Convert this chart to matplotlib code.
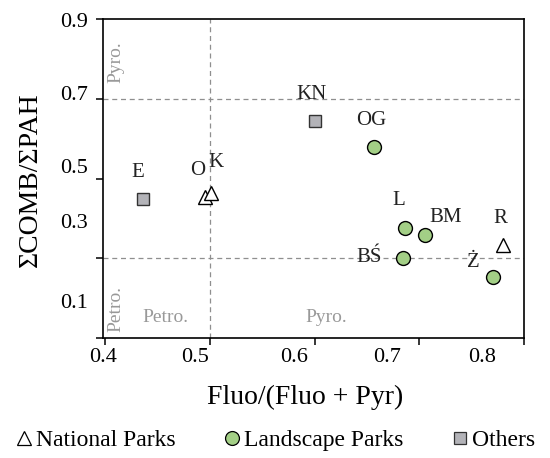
import numpy as np
import matplotlib
matplotlib.use("Agg")
import matplotlib.pyplot as plt
from matplotlib.lines import Line2D

plt.rcParams["font.family"] = ["Liberation Serif", "DejaVu Serif"]

# data
national_names = ["O", "K", "R"]
national_x = [0.495, 0.501, 0.780]
national_y = [0.454, 0.463, 0.333]

landscape_names = ["OG", "L", "BM", "BŚ", "Ż"]
landscape_x = [0.657, 0.686, 0.705, 0.684, 0.770]
landscape_y = [0.580, 0.375, 0.358, 0.301, 0.252]

other_names = ["E", "KN"]
other_x = [0.436, 0.600]
other_y = [0.449, 0.645]

x_ticks = [0.4, 0.5, 0.6, 0.7, 0.8]
y_ticks = [0.1, 0.3, 0.5, 0.7, 0.9]
tick_labels_x = ["0.4", "0.5", "0.6", "0.7", "0.8"]
tick_labels_y = ["0.1", "0.3", "0.5", "0.7", "0.9"]

# label offsets in points (text position relative to marker)
offsets = {"E": (-4, 19), "O": (-5, 19), "K": (4, 22), "KN": (-2, 19),
           "OG": (-2, 19), "L": (-4, 20), "BM": (15, 13), "R": (-2, 19),
           "Ż": (-14, 11), "BŚ": (-24, 0)}

green = "#a3cf86"
grey = "#b3b3b8"
guide = "#8f8f8f"

fig = plt.figure(figsize=(5.5, 4.58), dpi=100)
ax = fig.add_axes([0.1873, 0.262, 0.7654, 0.6965])

ax.axvline(0.5, color=guide, ls=(0, (4, 3)), lw=0.9, zorder=1)
ax.axhline(0.3, color=guide, ls=(0, (4, 3)), lw=0.9, zorder=1)
ax.axhline(0.7, color=guide, ls=(0, (4, 3)), lw=0.9, zorder=1)

ax.plot(national_x, national_y, ls="none", marker="^", ms=10, mfc="white",
        mec="black", mew=1.0, zorder=3)
ax.plot(landscape_x, landscape_y, ls="none", marker="o", ms=10, mfc=green,
        mec="black", mew=1.0, zorder=3)
ax.plot(other_x, other_y, ls="none", marker="s", ms=9, mfc=grey,
        mec="#333333", mew=1.0, zorder=3)

for names, xs, ys in [(national_names, national_x, national_y),
                      (landscape_names, landscape_x, landscape_y),
                      (other_names, other_x, other_y)]:
    for n, x, y in zip(names, xs, ys):
        ax.annotate(n, (x, y), xytext=offsets[n], textcoords="offset points",
                    ha="center", va="center", fontsize=15, color="#222222",
                    zorder=4)

# region labels
ax.text(0.030, 0.865, "Pyro.", rotation=90, color="#999999", fontsize=14,
        ha="center", va="center", transform=ax.transAxes)
ax.text(0.030, 0.091, "Petro.", rotation=90, color="#999999", fontsize=14,
        ha="center", va="center", transform=ax.transAxes)
ax.text(0.147, 0.063, "Petro.", color="#999999", fontsize=14,
        ha="center", va="center", transform=ax.transAxes)
ax.text(0.529, 0.063, "Pyro.", color="#999999", fontsize=14,
        ha="center", va="center", transform=ax.transAxes)

ax.set_xlim(0.4, 0.8)
ax.set_ylim(0.1, 0.9)

# tick marks where the reference has them, labels where the reference prints them
ax.set_xticks(x_ticks)
ax.set_xticklabels([])
ax.set_yticks(y_ticks)
ax.set_yticklabels([])
ax.set_xticks([0.398, 0.486, 0.580, 0.669, 0.760], minor=True)
ax.set_xticklabels(tick_labels_x, minor=True)
ax.set_yticks([0.193, 0.393, 0.531, 0.714, 0.897], minor=True)
ax.set_yticklabels(tick_labels_y, minor=True)
ax.tick_params(which="major", direction="out", length=5, width=1.1)
ax.tick_params(which="minor", length=0, labelsize=16, pad=7)
ax.tick_params(axis="y", which="minor", pad=11)

for s in ax.spines.values():
    s.set_linewidth(1.2)

fig.text(305 / 550, 1 - 397 / 458, "Fluo/(Fluo + Pyr)", fontsize=20,
         ha="center", va="center")
fig.text(30 / 550, 1 - 180 / 458, "ΣCOMB/ΣPAH", fontsize=20, rotation=90,
         ha="center", va="center")

handles = [
    Line2D([], [], ls="none", marker="^", ms=10, mfc="white", mec="black", mew=0.9),
    Line2D([], [], ls="none", marker="o", ms=10, mfc=green, mec="black", mew=0.9),
    Line2D([], [], ls="none", marker="s", ms=9, mfc=grey, mec="#333333", mew=0.9),
]
fig.legend(handles, ["National Parks", "Landscape Parks", "Others"],
           loc="center", bbox_to_anchor=(0.5, 1 - 440 / 458), ncol=3,
           frameon=False, fontsize=17, handlelength=0.8, handletextpad=0.1,
           columnspacing=2.0, borderpad=0)

fig.savefig("out.png", dpi=100)
